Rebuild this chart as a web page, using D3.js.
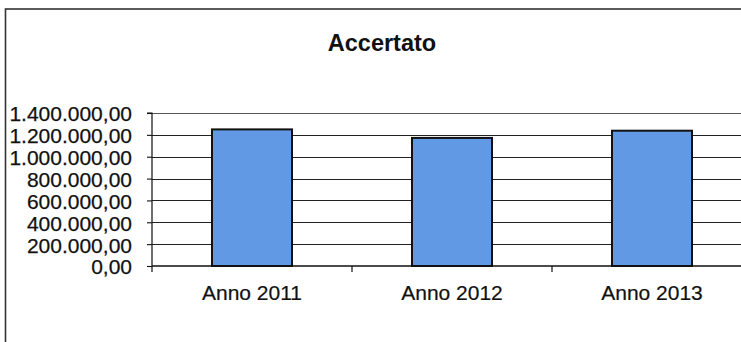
<!DOCTYPE html>
<html>
<head>
<meta charset="utf-8">
<script src="https://cdn.jsdelivr.net/npm/d3@7"></script>
<style>
  html, body { margin: 0; padding: 0; background: #fff; }
  svg { display: block; }
  text { font-family: "Liberation Sans", Arial, sans-serif; fill: #111; }
</style>
</head>
<body>
<svg id="chart" width="741" height="342"></svg>
<script>
// Accertato per anno
const categories = ["Anno 2011", "Anno 2012", "Anno 2013"];
const values = [1250000, 1172000, 1238000];
const yTicks = [0, 200000, 400000, 600000, 800000, 1000000, 1200000, 1400000];
const title = "Accertato";

const svg = d3.select("#chart");

const it = d3.formatLocale({ decimal: ",", thousands: ".", grouping: [3], currency: ["", " €"] });
const fmt = it.format(",.2f");

const plot = { left: 152, right: 752, top: 113, bottom: 266 };

const x = d3.scaleBand()
  .domain(categories)
  .range([plot.left, plot.right])
  .paddingInner(0.6)
  .paddingOuter(0.3);

const y = d3.scaleLinear()
  .domain([0, 1400000])
  .range([plot.bottom, plot.top]);

// chart frame
svg.append("rect")
  .attr("x", 5.5).attr("y", 9)
  .attr("width", 800).attr("height", 400)
  .attr("fill", "#fff")
  .attr("stroke", "#333")
  .attr("stroke-width", 1.6);

// title
svg.append("text")
  .attr("x", 382).attr("y", 51)
  .attr("text-anchor", "middle")
  .style("font-size", "23.5px")
  .style("font-weight", "bold")
  .text(title);

// horizontal gridlines
svg.append("g")
  .selectAll("line")
  .data(yTicks.filter(d => d > 0))
  .join("line")
  .attr("x1", plot.left).attr("x2", plot.right)
  .attr("y1", d => Math.round(y(d)) + 0.5)
  .attr("y2", d => Math.round(y(d)) + 0.5)
  .attr("stroke", d => d === 1400000 ? "#555" : "#222")
  .attr("stroke-width", 1.1);

// bars
svg.append("g")
  .selectAll("rect")
  .data(categories.map((c, i) => ({ c, v: values[i] })))
  .join("rect")
  .attr("x", d => x(d.c))
  .attr("y", d => y(d.v))
  .attr("width", x.bandwidth())
  .attr("height", d => y(0) - y(d.v))
  .attr("fill", "#6299e4")
  .attr("stroke", "#111")
  .attr("stroke-width", 2);

// value axis
const yAxis = d3.axisLeft(y)
  .tickValues(yTicks)
  .tickFormat(fmt)
  .tickSize(5)
  .tickPadding(15);

const gy = svg.append("g")
  .attr("transform", `translate(${plot.left},0)`)
  .call(yAxis);
gy.select(".domain").attr("stroke", "#111").attr("stroke-width", 1.2).attr("d", `M-5,${plot.top}H0V${plot.bottom}`);
gy.selectAll(".tick line").attr("stroke", "#111").attr("stroke-width", 1.1);
gy.selectAll(".tick text")
  .style("font-size", "21px")
  .style("font-family", "'Liberation Sans', Arial, sans-serif")
  .attr("fill", "#111")
  .attr("stroke", "#111")
  .attr("stroke-width", 0.25)
  .attr("dy", "0.38em");

// category axis
const xAxis = d3.axisBottom(x).tickSize(0).tickPadding(19);
const gx = svg.append("g")
  .attr("transform", `translate(0,${plot.bottom})`)
  .call(xAxis);
gx.select(".domain").attr("stroke", "#111").attr("stroke-width", 1.4).attr("d", `M${plot.left},0H${plot.right}`);
gx.selectAll(".tick text")
  .style("font-size", "21px")
  .style("font-family", "'Liberation Sans', Arial, sans-serif")
  .attr("fill", "#111")
  .attr("stroke", "#111")
  .attr("stroke-width", 0.2);

// category separators below the axis
const step = x.step();
const sepX = d3.range(categories.length).map(i => plot.left + i * step);
gx.append("g")
  .selectAll("line")
  .data(sepX)
  .join("line")
  .attr("x1", d => d).attr("x2", d => d)
  .attr("y1", 0).attr("y2", 6)
  .attr("stroke", "#111")
  .attr("stroke-width", 1.2);
</script>
</body>
</html>
